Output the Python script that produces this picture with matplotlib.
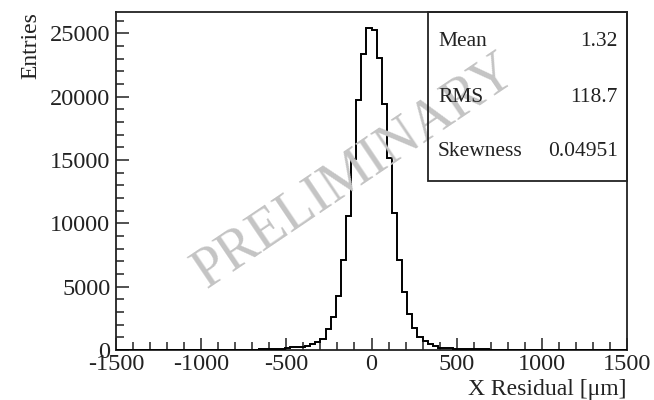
import numpy as np
import matplotlib
matplotlib.use("Agg")
import matplotlib.pyplot as plt
from matplotlib.ticker import MultipleLocator
from matplotlib.patches import Rectangle

plt.rcParams['font.family'] = ['Liberation Serif', 'DejaVu Serif']
plt.rcParams['axes.unicode_minus'] = False

# histogram: 100 bins of 30 um from -1500 to 1500
x_min, x_max, n_bins = -1500, 1500, 100
first_edge = -660  # lower edge of the first non-empty bin
counts_nonzero = [40, 50, 60, 70, 80, 130, 200, 210, 220, 340,
                  470, 650, 870, 1630, 2580, 4260, 7100, 10600, 15050, 19730,
                  23350, 25380, 25250, 23060, 19410, 15120, 10790, 7100, 4550, 2840,
                  1710, 1000, 730, 450, 315, 150, 130, 130, 110, 100,
                  80, 60, 50, 45, 40]

stat_names = ["Mean", "RMS", "Skewness"]
stat_values = ["1.32", "118.7", "0.04951"]

edges = np.linspace(x_min, x_max, n_bins + 1)
counts = np.zeros(n_bins)
i0 = int(round((first_edge - x_min) / 30))
counts[i0:i0 + len(counts_nonzero)] = counts_nonzero

fig = plt.figure(figsize=(6.54, 4.0), dpi=100)
ax = fig.add_axes([116/654, 1-350/400, (627-116)/654, (350-12)/400])

# watermark behind everything
fig.text(355/654, 1-172/400, "PRELIMINARY", fontsize=40, color="#c4c4c4",
         rotation=34, ha="center", va="center", rotation_mode="anchor", zorder=0)
ax.set_facecolor("none")

ax.stairs(counts, edges, color="black", lw=1.4, zorder=3)

ax.set_xlim(x_min, x_max)
ax.set_ylim(0, 26680)
ax.xaxis.set_major_locator(MultipleLocator(500))
ax.xaxis.set_minor_locator(MultipleLocator(100))
ax.yaxis.set_major_locator(MultipleLocator(5000))
ax.yaxis.set_minor_locator(MultipleLocator(1000))
ax.tick_params(which="both", direction="in", top=False, right=False,
               labelsize=17.5, colors="#222222", width=1.1)
ax.tick_params(which="major", length=9, pad=4)
ax.tick_params(axis="x", which="major", pad=3)
ax.tick_params(which="minor", length=5.5)
for s in ax.spines.values():
    s.set_linewidth(1.3)
    s.set_color("#222222")

ax.set_xlabel("X Residual [\u03bcm]", fontsize=17, loc="right", labelpad=3, color="#222222")
ax.set_ylabel("Entries", fontsize=17, loc="top", labelpad=6, color="#222222")

# stats box
box = Rectangle((428/654, 1-181/400), (627-428)/654, (181-12)/400, transform=fig.transFigure,
                fill=False, edgecolor="#222222", lw=1.3, zorder=5)
fig.add_artist(box)
row_y = [42, 97, 152]
for name, val, yy in zip(stat_names, stat_values, row_y):
    fig.text(438/654, 1-yy/400, name, fontsize=15.5, ha="left", va="center", color="#222222")
    fig.text(618/654, 1-yy/400, val, fontsize=15.5, ha="right", va="center", color="#222222")

fig.savefig("out.png", dpi=100)
